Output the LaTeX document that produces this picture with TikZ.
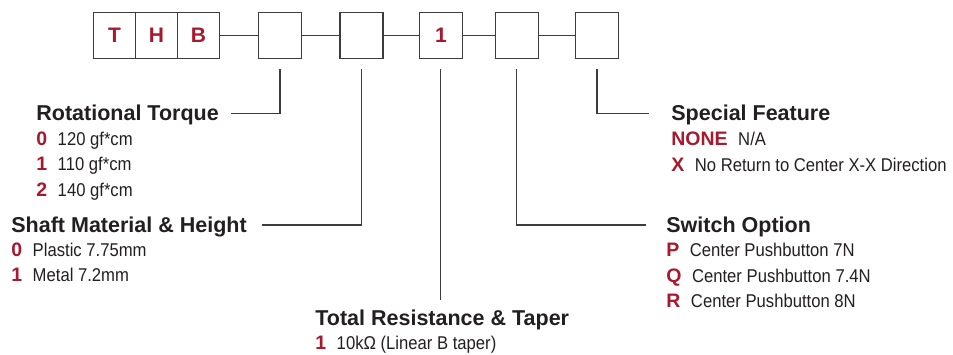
\documentclass[tikz,border=0pt]{standalone}
\usepackage{fontspec}
\setmainfont{Liberation Sans}
\newfontfamily\valfont{Liberation Sans}[FakeStretch=0.9]
\usepackage{tikz}
\usepackage{xcolor}
\definecolor{thbred}{RGB}{166,25,46}
\definecolor{thbtext}{RGB}{35,31,32}
\definecolor{thbline}{RGB}{60,60,60}
\newcommand{\optline}[2]{{\color{thbred}\fontsize{19.5pt}{19.5pt}\bfseries #1}\hspace{10.5pt}{\valfont\fontsize{18.5pt}{18.5pt}\selectfont #2}}

\begin{document}
\begin{tikzpicture}[thick, x=1pt, y=1pt,
    pbox/.style={draw=thbline, line width=1.3pt, minimum width=42.9pt,
        minimum height=45.7pt, inner sep=0pt, text=thbred,
        font=\fontsize{21pt}{21pt}\selectfont\bfseries},
    head/.style={anchor=base west, inner sep=0pt, text=thbtext,
        font=\fontsize{21.5pt}{21.5pt}\selectfont\bfseries},
    opt/.style={anchor=base west, inner sep=0pt, text=thbtext},
    lead/.style={draw=thbline, line width=1.2pt}]
    \useasboundingbox (0,0) rectangle (953,-354);
    % part number boxes
    \node[pbox, minimum width=41.9pt] (b1) at (114.55,-35.35) {T};
    \node[pbox, minimum width=41.9pt, right of=b1, node distance=41.9pt] (b2) {H};
    \node[pbox, minimum width=41.9pt, right of=b2, node distance=41.9pt] (b3) {B};
    \node[pbox, right of=b3, node distance=81.7pt] (b4) {};
    \node[pbox, right of=b4, node distance=81.4pt] (b5) {};
    \node[pbox, right of=b5, node distance=79.4pt] (b6) {1};
    \node[pbox, right of=b6, node distance=76pt] (b7) {};
    \node[pbox, right of=b7, node distance=80.1pt] (b8) {};
    \draw[lead] (b3) -- (b4) -- (b5) -- (b6) -- (b7) -- (b8);

    % rotational torque
    \node[head] (rt) at (36,-120.7) {Rotational Torque};
    \node[opt] (rt0) at (36,-145) {\optline{0}{120 gf*cm}};
    \node[opt] (rt1) at (36,-170.5) {\optline{1}{110 gf*cm}};
    \node[opt] (rt2) at (36,-196) {\optline{2}{140 gf*cm}};

    % shaft
    \node[head] (sm) at (11,-232.7) {Shaft Material \& Height};
    \node[opt] (sm0) at (11,-256.7) {\optline{0}{Plastic 7.75mm}};
    \node[opt] (sm1) at (11,-281.7) {\optline{1}{Metal 7.2mm}};

    % resistance
    \node[head] (tr) at (315,-325.7) {Total Resistance \& Taper};
    \node[opt] (tr1) at (315,-349) {\optline{1}{10kΩ (Linear B taper)}};

    % special feature
    \node[head] (sf) at (671,-120.7) {Special Feature};
    \node[opt] (sfn) at (671,-145) {\optline{NONE}{N/A}};
    \node[opt] (sfx) at (671,-171.7) {\optline{X}{No Return to Center X-X Direction}};

    % switch
    \node[head] (so) at (666,-232.7) {Switch Option};
    \node[opt] (sop) at (666,-256.7) {\optline{P}{Center Pushbutton 7N}};
    \node[opt] (soq) at (666,-282) {\optline{Q}{Center Pushbutton 7.4N}};
    \node[opt] (sor) at (666,-307) {\optline{R}{Center Pushbutton 8N}};

    \draw[lead, shorten <=10pt] (b4) |- ([xshift=12pt, yshift=7.4pt]rt.base east);
    \draw[lead, shorten <=10pt] (b5) |- ([xshift=15pt, yshift=7.7pt]sm.base east);
    \draw[lead, shorten <=10pt] (b6) -- ([yshift=26pt]b6 |- tr.base);
    \draw[lead, shorten <=10pt] (b7) |- ([xshift=-20pt, yshift=7.7pt]so.base west);
    \draw[lead, shorten <=10pt] (b8) |- ([xshift=-22pt, yshift=7.4pt]sf.base west);
\end{tikzpicture}
\end{document}
